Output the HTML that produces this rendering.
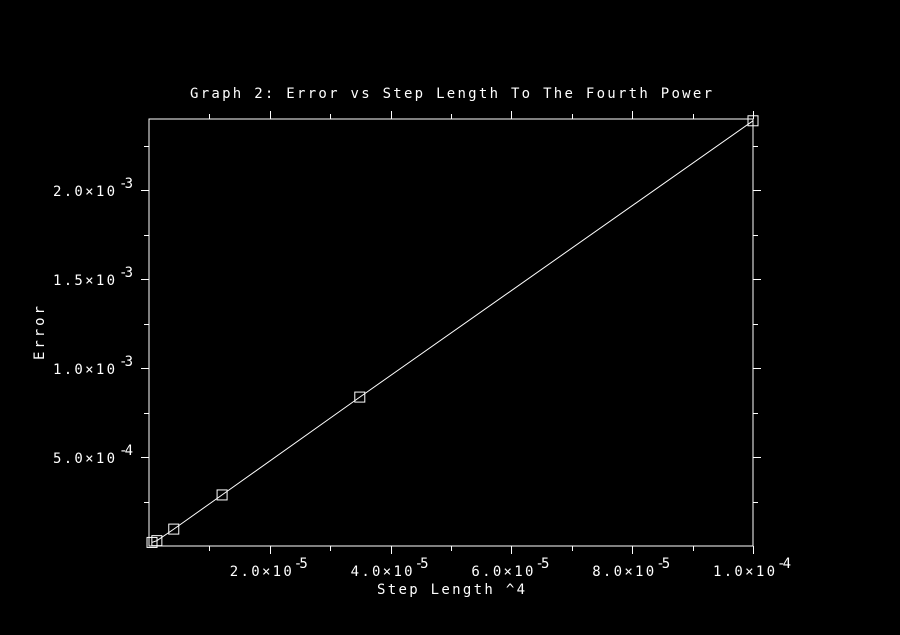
<!DOCTYPE html>
<html><head><meta charset="utf-8"><style>
html,body{margin:0;padding:0;background:#000;}
svg{display:block;}
text{font-family:"DejaVu Sans Mono","Liberation Mono",monospace;fill:#fff;font-size:14px;}
</style></head><body>
<svg id="chart" width="900" height="635" xmlns="http://www.w3.org/2000/svg">
<rect width="900" height="635" fill="#000"/>
<text x="190" y="98" textLength="522" lengthAdjust="spacing">Graph 2: Error vs Step Length To The Fourth Power</text>
<text x="377" y="594" textLength="148" lengthAdjust="spacing">Step Length ^4</text>
<text transform="translate(44,360) rotate(-90)" textLength="54" lengthAdjust="spacing">Error</text>
<g id="axes"></g><g id="marks"></g>
</svg>
<script>
const xValues=[0.5e-6,1.3e-6,4.1e-6,1.21e-5,3.49e-5,1.0e-4];
const yValues=[0.2e-4,0.3e-4,0.95e-4,2.87e-4,8.37e-4,2.39e-3];
const xTickValues=[2e-5,4e-5,6e-5,8e-5,1e-4];
const xTickLabels=["2.0","4.0","6.0","8.0","1.0"];
const xTickExp=["-5","-5","-5","-5","-4"];
const yTickValues=[5e-4,1e-3,1.5e-3,2e-3];
const yTickLabels=["5.0","1.0","1.5","2.0"];
const yTickExp=["-4","-3","-3","-3"];
const L=149,R=753,T=119,B=546,XMAX=1e-4,YMAX=2.4e-3;
const sx=v=>L+v/XMAX*(R-L), sy=v=>B-v/YMAX*(B-T);
const NS="http://www.w3.org/2000/svg";
const axes=document.getElementById('axes'), marks=document.getElementById('marks');
function mk(tag,attrs,parent){const e=document.createElementNS(NS,tag);for(const k in attrs)e.setAttribute(k,attrs[k]);parent.appendChild(e);return e;}
const frame=mk('rect',{x:L,y:T,width:R-L,height:B-T,fill:'none',stroke:'#fff','stroke-width':1},axes);


function line(x1,y1,x2,y2){const l=mk('line',{x1,y1,x2,y2,stroke:'#fff','stroke-width':1},axes);}
for(let i=1;i<=10;i++){const x=Math.round(sx(i*1e-5))+0.5;const len=i%2==0?8:5;line(x,B,x,B+len);line(x,T,x,T-len);}
for(let i=1;i<=9;i++){const y=Math.round(sy(i*2.5e-4))+0.5;const len=i%2==0?8:5;line(L,y,L-len,y);line(R,y,R+len,y);}
xTickValues.forEach((v,i)=>{
  const t=mk('text',{x:sx(v)-40,y:576,textLength:62,lengthAdjust:'spacing'},axes);
  
  
  t.textContent=xTickLabels[i]+"\u00d710";
  const s=mk('text',{x:sx(v)+24,y:568,'font-size':'11px',textLength:14,lengthAdjust:'spacing'},axes);
  
  
  s.textContent=xTickExp[i];
});
yTickValues.forEach((v,i)=>{
  const t=mk('text',{x:53,y:sy(v)+6,textLength:62,lengthAdjust:'spacing'},axes);
  
  
  t.textContent=yTickLabels[i]+"\u00d710";
  const s=mk('text',{x:119,y:sy(v)-2,'font-size':'11px',textLength:14,lengthAdjust:'spacing'},axes);
  
  
  s.textContent=yTickExp[i];
});
const pts=xValues.map((v,i)=>sx(v).toFixed(1)+","+sy(yValues[i]).toFixed(1)).join(" ");
const pl=mk('polyline',{points:pts,fill:'none',stroke:'#fff','stroke-width':1},marks);


xValues.forEach((v,i)=>{
  const r=mk('rect',{x:sx(v)-5,y:sy(yValues[i])-5,width:10,height:10,fill:'none',stroke:'#fff','stroke-width':1},marks);
  
  
});
</script>
</body></html>
